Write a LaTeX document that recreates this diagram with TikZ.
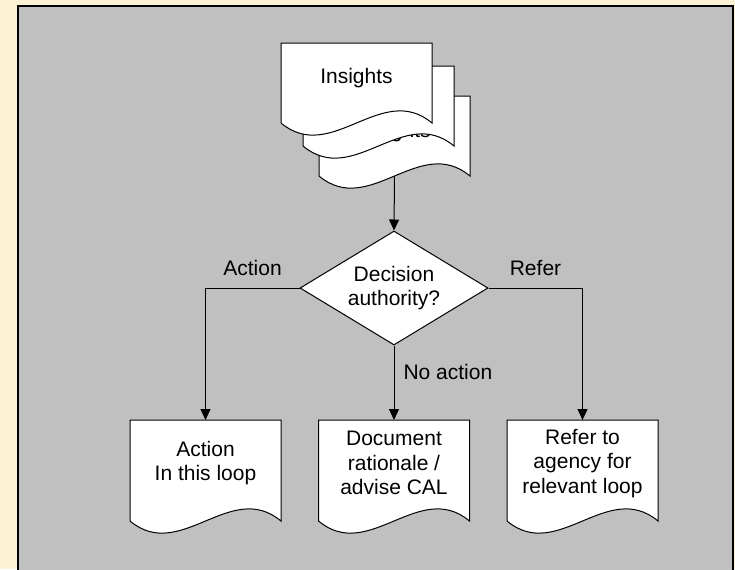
\documentclass[tikz,border=0pt]{standalone}
\usepackage{fontspec}
\setmainfont{Liberation Sans}
\usetikzlibrary{shapes.geometric,arrows.meta,calc}
\definecolor{cream}{RGB}{252,242,214}
\definecolor{panelgray}{RGB}{192,192,192}
\newcommand\fsz{\fontsize{15.75pt}{18.4pt}\selectfont}
\tikzset{
  sheet/.style={fill=white,draw=black,line width=0.75pt,line join=miter},
  doctext/.style={align=center,inner sep=0pt,minimum width=113.25pt,anchor=north,font=\fsz},
  decision/.style={diamond,draw=black,fill=white,line width=0.75pt,inner sep=0pt,
    shape aspect=1.65,minimum width=141pt,minimum height=85.5pt,align=center,font=\fsz},
  conn/.style={draw=black,line width=0.75pt,-{Triangle[length=8.25pt,width=7.5pt]}},
  lbl/.style={inner sep=0pt,font=\fsz},
  frame/.style={draw=black,line width=1.5pt}
}
% #1 name, #2 left x, #3 top y, #4 side height, #5 text box height, #6 text
\newcommand\docsheet[6]{%
  \filldraw[sheet] (#2,#3) -- (#2+151,#3) -- (#2+151,#3+#4)
    .. controls (#2+100.67,#3+#4-42) and (#2+50.33,#3+#4+42) .. (#2,#3+#4) -- cycle;
  \node[doctext,minimum height=#5] (#1) at (#2+75.5,#3) {#6};
  \coordinate (#1-bot) at (#2+75.5,#3+#4);
}
\begin{document}
\begin{tikzpicture}[x=0.75pt,y=-0.75pt]
\useasboundingbox (0,0) rectangle (735,569);
% background
\fill[cream] (0,0) rectangle (735,569);
\fill[panelgray] (17.5,6) rectangle (732.5,575);
\draw[frame] (17.5,575) -- (17.5,6) -- (732.5,6) -- (732.5,575);
% multi-document stack
\docsheet{insC}{319}{96}{80}{53.5pt}{Insights}
\docsheet{insB}{303}{66}{80}{49.5pt}{}
\docsheet{insA}{281}{43}{80}{51.6pt}{Insights}
% decision
\node[decision] (dec) at (394,288) {Decision\\authority?};
% outcome documents
\docsheet{act}{130}{420}{101}{64.5pt}{Action\\In this loop}
\docsheet{doc}{318.5}{420}{101}{64.5pt}{Document\\rationale /\\advise CAL}
\docsheet{ref}{507}{420}{101}{64.5pt}{Refer to\\agency for\\relevant loop}
% connectors
\draw[conn] (insC-bot) -- (dec.north);
\draw[conn] (dec.west) -| node[lbl,pos=0.25,above=9pt] {Action} (act.north);
\draw[conn] (dec.east) -| node[lbl,pos=0.25,above=9pt] {Refer} (ref.north);
\draw[conn] (dec.south) -- node[lbl,pos=0.36,right=6.75pt] {No action} (doc.north);
\end{tikzpicture}
\end{document}
